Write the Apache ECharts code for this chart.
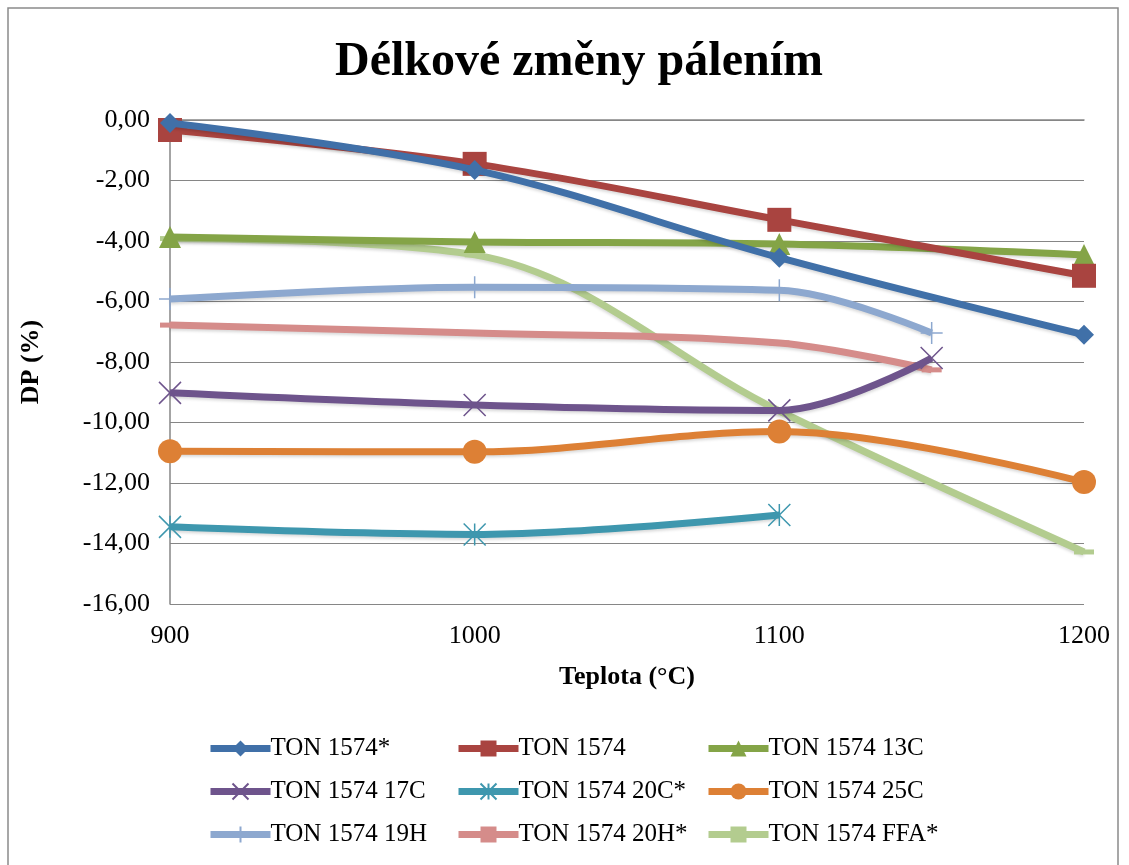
<!DOCTYPE html>
<html><head><meta charset="utf-8">
<script src="https://cdn.jsdelivr.net/npm/echarts@6/dist/echarts.min.js"></script>
<style>html,body{margin:0;padding:0;background:#fff}#c{width:1129px;height:865px}</style>
</head><body><div id="c"></div>
<script>
const seriesNames = ['TON 1574*','TON 1574','TON 1574 13C','TON 1574 17C','TON 1574 20C*','TON 1574 25C','TON 1574 19H','TON 1574 20H*','TON 1574 FFA*'];
const xTon1574s   = [900,1000,1100,1200];
const yTon1574s   = [-0.10,-1.65,-4.55,-7.10];
const xTon1574    = [900,1000,1100,1200];
const yTon1574    = [-0.33,-1.45,-3.30,-5.15];
const x13C        = [900,1000,1100,1200];
const y13C        = [-3.87,-4.03,-4.10,-4.46];
const x17C        = [900,1000,1100,1150];
const y17C        = [-9.02,-9.42,-9.60,-7.87];
const x20Cs       = [900,1000,1100];
const y20Cs       = [-13.45,-13.70,-13.06];
const x25C        = [900,1000,1100,1200];
const y25C        = [-10.95,-10.97,-10.30,-11.97];
const x19H        = [900,1000,1100,1150];
const y19H        = [-5.92,-5.53,-5.63,-7.04];
const x20Hs       = [900,1000,1100,1150];
const y20Hs       = [-6.78,-7.04,-7.37,-8.26];
const xFFA        = [900,1000,1100,1200];
const yFFA        = [-3.92,-4.46,-9.62,-14.28];
const yTicks      = [0,-2,-4,-6,-8,-10,-12,-14,-16];

const xs = [xTon1574s,xTon1574,x13C,x17C,x20Cs,x25C,x19H,x20Hs,xFFA];
const ys = [yTon1574s,yTon1574,y13C,y17C,y20Cs,y25C,y19H,y20Hs,yFFA];
const colors = ['#4070A8','#A94440','#84A447','#6E548C','#3E97AE','#DD8035','#8DA8CF','#D58C8A','#B3CC8F'];
const X = 'path://M0,0 L10,10 M10,0 L0,10';
const STAR = 'path://M0,0 L10,10 M10,0 L0,10 M5,0 L5,10';
const PLUS = 'path://M5,0 L5,10 M0,5 L10,5';
const symbols = ['diamond','rect','triangle',X,STAR,'circle',PLUS,'rect','rect'];
const sizes = [20,24,22,22,22,24,22,[20,5],[20,5]];
const stroked = [false,false,false,true,true,false,true,false,false];
const font = '"Liberation Serif", "Times New Roman", serif';

const series = seriesNames.map((n,i)=>({
  name:n, type:'line', smooth:0.35,
  data: xs[i].map((x,j)=>[x, ys[i][j]]),
  symbol: symbols[i], symbolSize: sizes[i], showSymbol:true,
  lineStyle:{color:colors[i], width:7, shadowColor:'rgba(0,0,0,0.15)', shadowBlur:3, shadowOffsetY:2},
  itemStyle:{color:colors[i], borderColor:colors[i], borderWidth: stroked[i]?1.5:0},
  z: 10-i
}));

const legendCols = [[0,3,6],[1,4,7],[2,5,8]];
const legendLeft = [207,455,705];
const legends = legendCols.map((col,k)=>({
  orient:'vertical', left:legendLeft[k], top:736, padding:0, itemGap:18, itemWidth:60, itemHeight:20,
  data: col.map(i=>seriesNames[i]),
  lineStyle:{width:7},
  textStyle:{fontFamily:font, fontSize:25, color:'#000', padding:[0,0,0,-5]},
  selectedMode:false
}));

const chart = echarts.init(document.getElementById('c'));
chart.setOption({
  animation:false,
  color: colors,
  title:{text:'Délkové změny pálením', left:330, top:34,
    textStyle:{fontFamily:font, fontSize:48, fontWeight:'bold', color:'#000'}},
  grid:{left:170, right:45, top:120, bottom:261, containLabel:false},
  xAxis:{type:'value', min:900, max:1200, interval:100,
    name:'Teplota (°C)', nameLocation:'middle', nameGap:60,
    nameTextStyle:{fontFamily:font, fontSize:26, fontWeight:'bold', color:'#000'},
    axisLine:{show:true, lineStyle:{color:'#868686', width:1.5}},
    axisTick:{show:false}, splitLine:{show:false},
    axisLabel:{fontFamily:font, fontSize:26, color:'#000', margin:19, formatter:v=>String(v)}},
  yAxis:{type:'value', min:-16, max:0, interval:2,
    name:'DP (%)', nameLocation:'middle', nameGap:126, nameRotate:90,
    nameTextStyle:{fontFamily:font, fontSize:26, fontWeight:'bold', color:'#000'},
    axisLine:{show:true, lineStyle:{color:'#868686', width:1.5}},
    axisTick:{show:false},
    splitLine:{show:true, lineStyle:{color:'#868686', width:1.2}},
    axisLabel:{fontFamily:font, fontSize:26, color:'#000', margin:20,
      formatter:v=>(v===0?0:v).toFixed(2).replace('.',',')}},
  legend: legends,
  graphic:[{type:'rect', shape:{x:8, y:8, width:1110, height:880},
    style:{fill:'none', stroke:'#8a8a8a', lineWidth:1.5}, silent:true}],
  series: series
});
</script></body></html>
